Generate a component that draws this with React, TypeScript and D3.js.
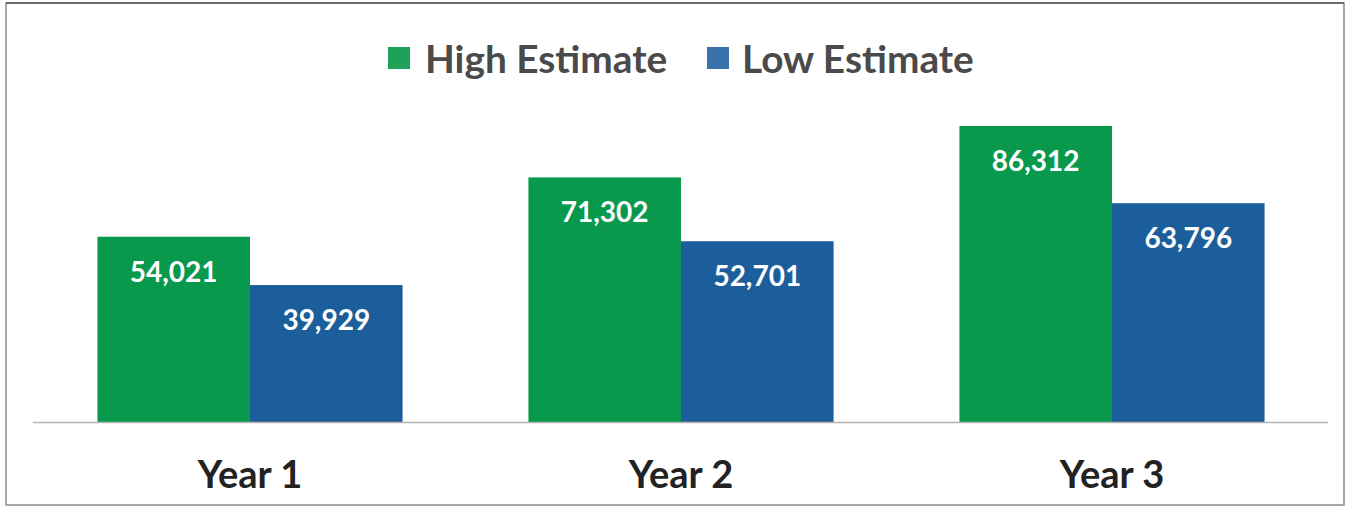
import React from "react";
import * as d3 from "d3";

const categories = ["Year 1", "Year 2", "Year 3"];
const seriesNames = ["High Estimate", "Low Estimate"];
const highEstimate = [54021, 71302, 86312];
const lowEstimate = [39929, 52701, 63796];

const W = 1346;
const H = 508;
const barColors = ["#08994c", "#1c5e9b"];
const legendColors = ["#1fa159", "#3a72ac"];

export default function App() {
  const x = d3
    .scaleBand<string>()
    .domain(categories)
    .range([34.5, 1327.5])
    .paddingInner(0.292)
    .paddingOuter(0.146);
  const xs = d3
    .scaleBand<string>()
    .domain(seriesNames)
    .range([0, x.bandwidth()])
    .padding(0);
  const y = d3.scaleLinear().domain([0, 100000]).range([422, 79]);
  const fmt = d3.format(",");
  const series = [highEstimate, lowEstimate];

  const legendItems = [
    { name: seriesNames[0], sx: 388, tx: 425 },
    { name: seriesNames[1], sx: 707, tx: 742 },
  ];

  return (
    <svg
      width={W}
      height={H}
      style={{ position: "absolute", left: 0, top: 0, background: "#fff" }}
      fontFamily="Lato, 'Open Sans', sans-serif"
    >
      <rect x={0} y={0} width={W} height={H} fill="#fff" />
      <rect x={6} y={3} width={1338} height={502} fill="none" stroke="#8a8a8a" strokeWidth={1.5} />
      <line x1={6} x2={1344} y1={3} y2={3} stroke="#555" strokeWidth={1.5} />

      {legendItems.map((l, i) => (
        <g key={l.name}>
          <rect x={l.sx} y={47} width={22} height={22} fill={legendColors[i]} />
          <text x={l.tx} y={73} fontSize={38.8} fontWeight={700} fill="#4a4a4a">
            {l.name}
          </text>
        </g>
      ))}

      {categories.map((c, ci) => (
        <g key={c} transform={`translate(${x(c)},0)`}>
          {series.map((vals, si) => {
            const bx = xs(seriesNames[si]) as number;
            const top = y(vals[ci]);
            return (
              <g key={si}>
                <rect
                  x={bx}
                  y={top}
                  width={xs.bandwidth()}
                  height={y(0) - top}
                  fill={barColors[si]}
                />
                <text
                  x={bx + xs.bandwidth() / 2}
                  y={top + 45}
                  textAnchor="middle"
                  fontSize={28}
                  fontWeight={700}
                  fill="#ffffff"
                >
                  {fmt(vals[ci])}
                </text>
              </g>
            );
          })}
          <text
            x={x.bandwidth() / 2}
            y={488}
            textAnchor="middle"
            fontSize={38}
            fontWeight={700}
            fill="#222"
          >
            {c}
          </text>
        </g>
      ))}

      <line x1={33} x2={1328} y1={422.5} y2={422.5} stroke="#b5b5b5" strokeWidth={1.5} />
    </svg>
  );
}
